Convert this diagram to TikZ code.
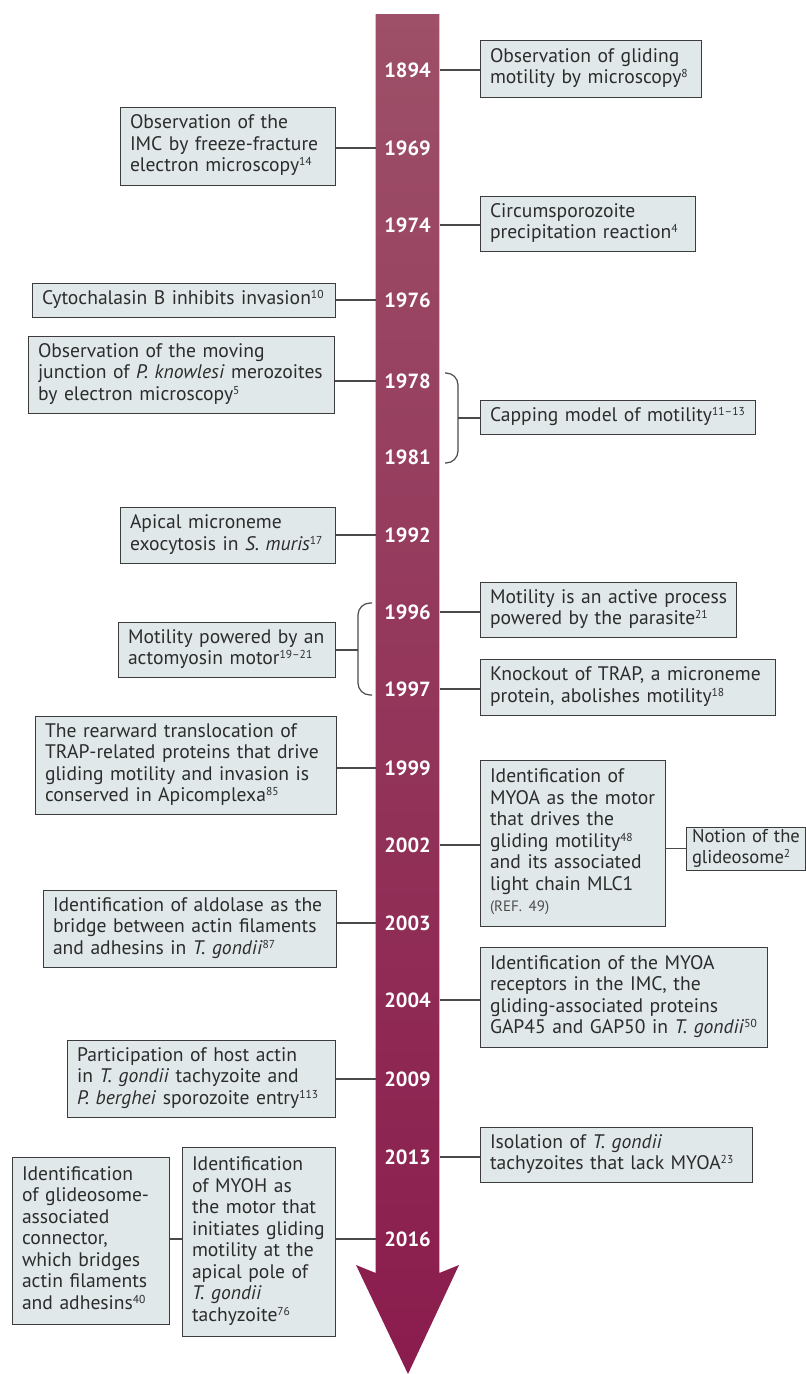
\documentclass[tikz,border=0pt]{standalone}
\usepackage{fontspec}
\setmainfont{PT Sans}
\usetikzlibrary{calc}
\definecolor{boxfill}{HTML}{E1E8EA}
\definecolor{boxline}{HTML}{3C3C3C}
\definecolor{txt}{HTML}{2C2C2C}
\definecolor{connc}{HTML}{4A4A4A}
\definecolor{arrtop}{HTML}{9D5068}
\definecolor{arrbot}{HTML}{8A1C4D}
\newcommand\boxfont{\fontsize{19.6}{21.5}\selectfont}
\newcommand\refn[1]{\raisebox{6pt}{\fontsize{11.5}{10}\selectfont #1}}
\def\bxpad{10}
\newcommand\bx[7][]{%
  \pgfmathsetmacro\bxw{#5-#3}\pgfmathsetmacro\bxh{#6-#4}\pgfmathsetmacro\bxtw{#5-#3-2*\bxpad}%
  \pgfmathsetmacro\bxcx{(#3+#5)/2}\pgfmathsetmacro\bxcy{(#4+#6)/2}%
  \node[box,#1,minimum width=\bxw pt,minimum height=\bxh pt,text width=\bxtw pt] (#2) at (\bxcx,\bxcy)
    {\begin{tabular}{@{}l@{}}#7\end{tabular}};}
\begin{document}
\begin{tikzpicture}[x=1pt,y=-1pt,
  box/.style={draw=boxline,fill=boxfill,line width=1pt,text=txt,align=left,inner xsep=0pt,inner ysep=0pt,font=\boxfont},
  year/.style={text=white,font=\fontsize{20.5}{20.5}\selectfont\bfseries,minimum width=63.6pt,inner sep=0pt},
  conn/.style={draw=connc,line width=1.2pt},
  brace/.style={draw=connc,line width=1.2pt,rounded corners=12pt}]
\useasboundingbox (0,0) rectangle (806,1374);
% arrow
\shade[top color=arrtop,bottom color=arrbot] (375.7,14) -- (439.3,14) -- (439.3,1273) -- (459,1265) -- (408,1374) -- (356,1265) -- (375.7,1273) -- cycle;
% years
\foreach \yr/\yy in {1894/70,1969/148,1974/225,1976/300,1978/381,1981/457,1992/535,1996/612,1997/689,1999/768,2002/845,2003/923,2004/1000,2009/1079,2013/1157,2016/1239}
  {\node[year] (y\yr) at (407.5,\yy) {\yr};}
% boxes
\bx{b1894}{480}{40}{701}{97}{Observation of gliding\\motility by microscopy\refn{8}}
\bx{b1969}{120}{107}{335}{185}{Observation of the\\IMC by freeze-fracture\\electron microscopy\refn{14}}
\bx{b1974}{480}{196}{695}{251}{Circumsporozoite\\precipitation reaction\refn{4}}
\bx{b1976}{32}{283}{335}{317}{Cytochalasin B inhibits invasion\refn{10}}
\bx{b1978}{28}{336}{334}{413}{Observation of the moving\\junction of \textit{P. knowlesi} merozoites\\by electron microscopy\refn{5}}
\bx{bcap}{480}{400}{755}{434}{Capping model of motility\refn{11--13}}
\bx{b1992}{120}{507}{335}{563}{Apical microneme\\exocytosis in \textit{S. muris}\refn{17}}
\bx{bact}{118}{622}{335}{677}{Motility powered by an\\actomyosin motor\refn{19--21}}
\bx{b1996}{480}{582}{736}{637}{Motility is an active process\\powered by the parasite\refn{21}}
\bx{b1997}{480}{659}{775}{715}{Knockout of TRAP, a microneme\\protein, abolishes motility\refn{18}}
\bx{b1999}{35}{716}{336}{814}{The rearward translocation of\\TRAP-related proteins that drive\\gliding motility and invasion is\\conserved in Apicomplexa\refn{85}}
\bx{b2002}{480}{760}{665}{926}{Identification of\\MYOA as the motor\\that drives the\\gliding motility\refn{48}\\and its associated\\light chain MLC1\\{\fontsize{15}{16}\selectfont\color{txt!85}(REF. 49)}}
\def\bxpad{6}
\bx[font=\fontsize{18.6}{21.5}\selectfont]{bglide}{686}{828}{805.5}{869}{Notion of the\\glideosome\refn{2}}
\def\bxpad{10}
\bx{b2003}{43}{890}{336}{967}{Identification of aldolase as the\\bridge between actin filaments\\and adhesins in \textit{T. gondii}\refn{87}}
\bx{b2004}{480}{947}{767}{1047}{Identification of the MYOA\\receptors in the IMC, the\\gliding-associated proteins\\GAP45 and GAP50 in \textit{T. gondii}\refn{50}}
\bx{b2009}{67}{1040}{335}{1117}{Participation of host actin\\in \textit{T. gondii} tachyzoite and\\\textit{P. berghei} sporozoite entry\refn{113}}
\bx{b2013}{480}{1127}{752}{1182}{Isolation of \textit{T. gondii}\\tachyzoites that lack MYOA\refn{23}}
\bx{b2016}{182}{1147}{335}{1336}{Identification\\of MYOH as\\the motor that\\initiates gliding\\motility at the\\apical pole of\\\textit{T. gondii}\\tachyzoite\refn{76}}
\bx{bglc}{12}{1157}{169}{1324}{Identification\\of glideosome-\\associated\\connector,\\which bridges\\actin filaments\\and adhesins\refn{40}}
% connectors
\foreach \yr in {1894,1974,1996,1997,2002,2004,2013}
  {\draw[conn] (y\yr.east) -- (y\yr.east -| b\yr.west);}
\foreach \yr in {1969,1976,1978,1992,1999,2003,2009,2016}
  {\draw[conn] (y\yr.west) -- (y\yr.west -| b\yr.east);}
\draw[conn] (b2016.west |- y2016.west) -- (bglc.east |- y2016.west);
\draw[conn] (b2002.east |- bglide.west) -- (bglide.west);
% braces
\coordinate (brR) at (458,418);
\coordinate (brL) at (358,650);
\draw[brace] (445,373) -- (458,373) -- (458,463) -- (445,463);
\draw[conn] (brR) -- (brR -| bcap.west);
\draw[brace] (372,603) -- (358,603) -- (358,695) -- (372,695);
\draw[conn] (brL) -- (brL -| bact.east);
\end{tikzpicture}
\end{document}
